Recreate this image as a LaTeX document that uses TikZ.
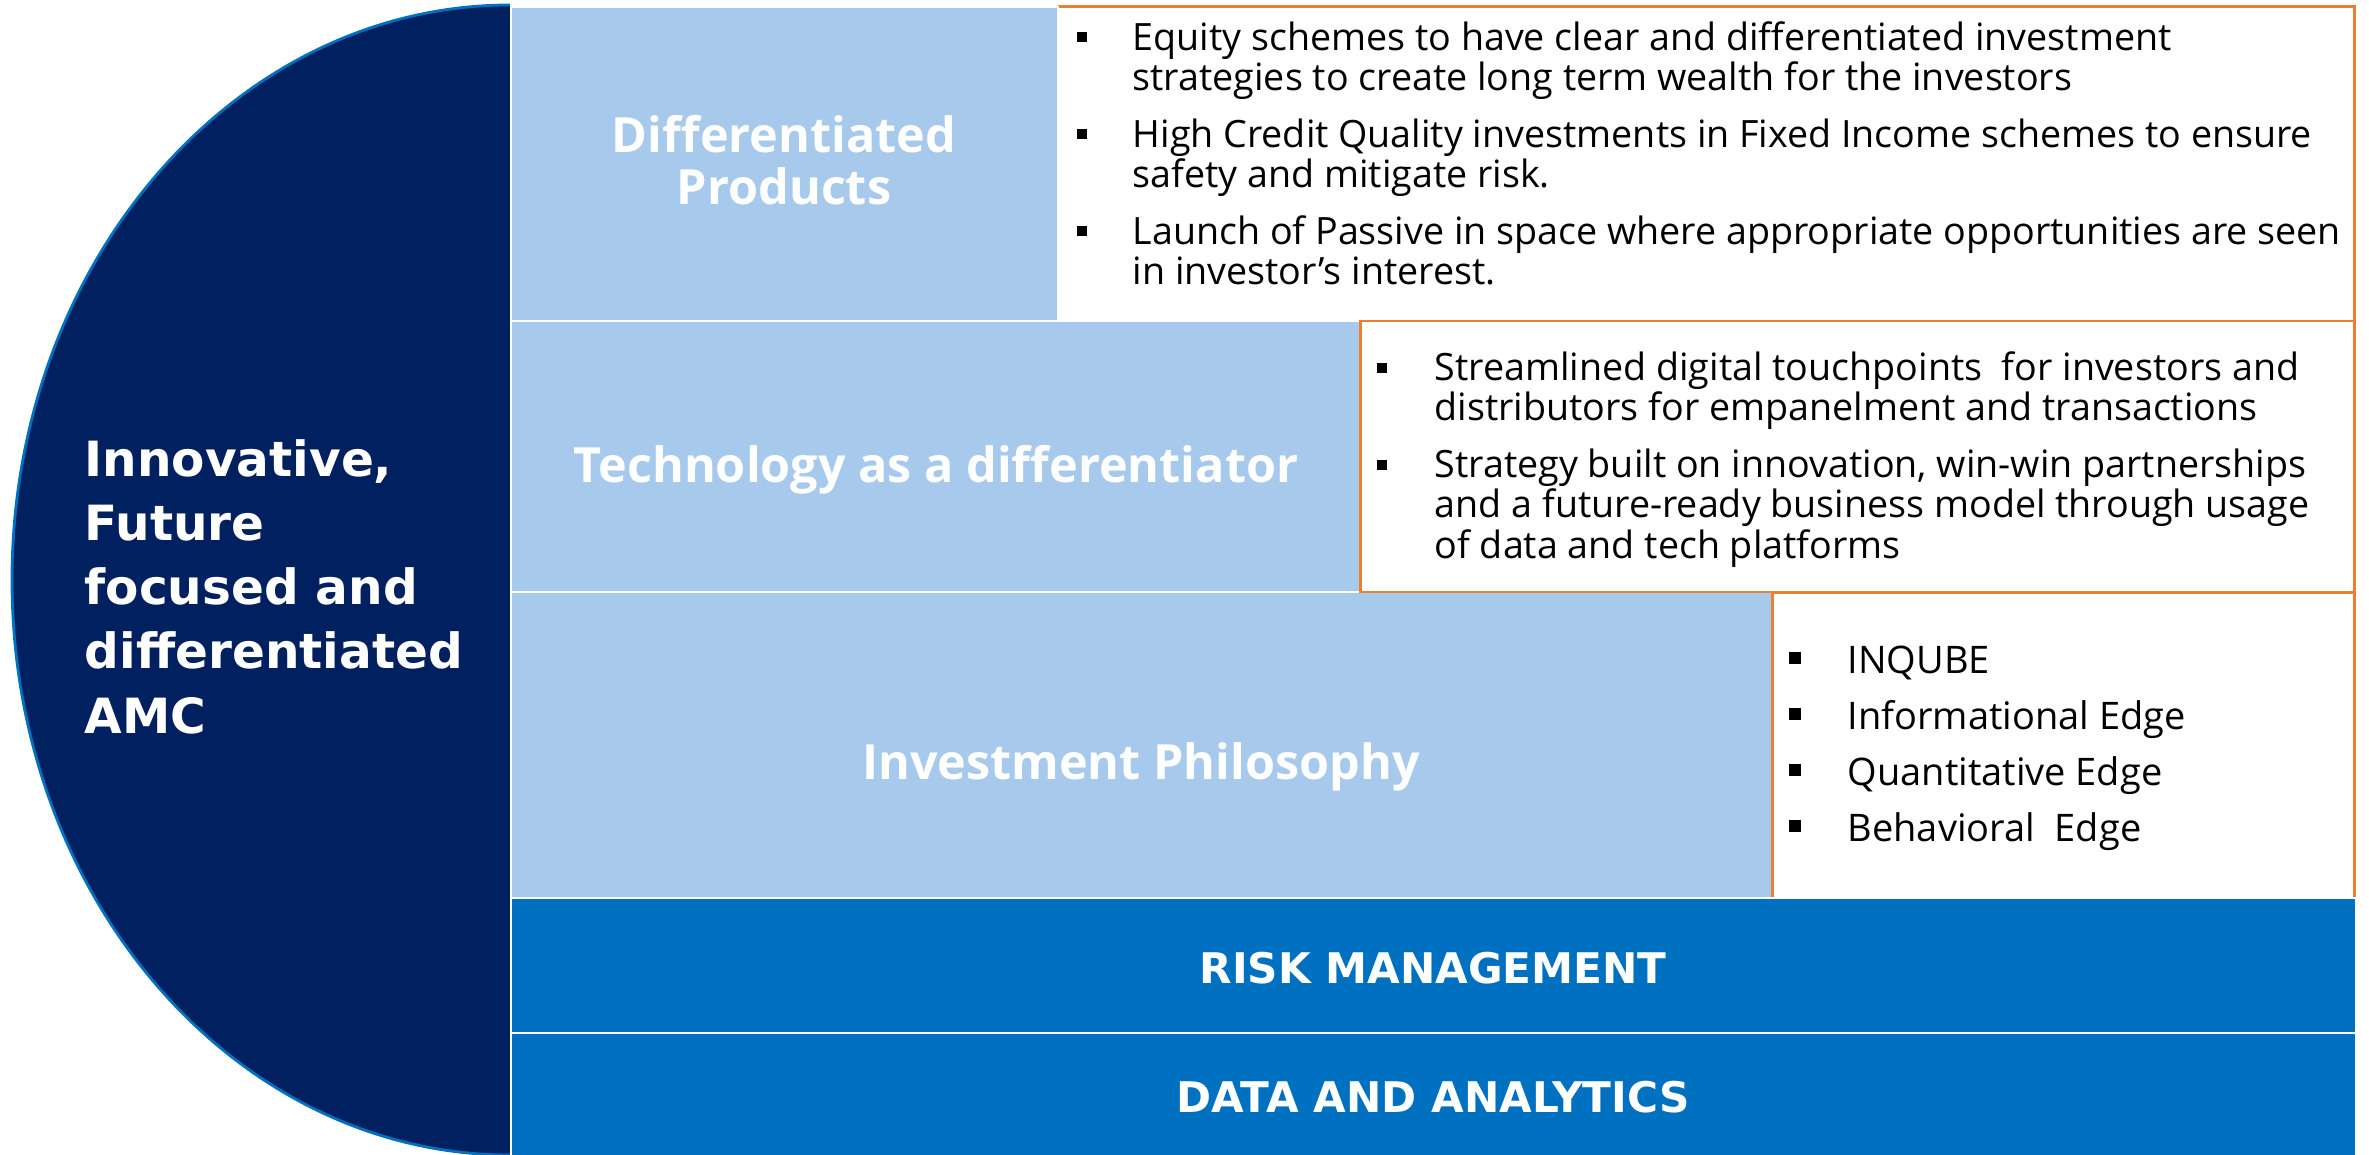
\documentclass[tikz,border=0pt]{standalone}
\usepackage{fontspec}
\setmainfont{Open Sans}
\newfontfamily\wideb{DejaVu Sans}
\definecolor{navy}{HTML}{002060}
\definecolor{eblue}{HTML}{0070C0}
\definecolor{lblue}{HTML}{A7CAEC}
\definecolor{dblue}{HTML}{0070C0}
\definecolor{orng}{HTML}{ED7D31}
\begin{document}
\begin{tikzpicture}[x=0.01cm,y=-0.01cm,
  lbox/.style={fill=lblue,draw=white,line width=0.6pt},
  bar/.style={fill=dblue,draw=white,line width=0.6pt},
  obox/.style={draw=orng,line width=0.85pt},
  head/.style={text=white,font=\fontsize{13.8pt}{14.8pt}\selectfont\bfseries,align=center,anchor=base,inner sep=0pt},
  barhead/.style={text=white,font=\wideb\fontsize{12pt}{14pt}\selectfont\bfseries,anchor=base,inner sep=0pt},
  body/.style={font=\fontsize{10.7pt}{11.45pt}\selectfont,align=left,anchor=base west,inner sep=0pt},
  bodyb/.style={font=\fontsize{10.8pt}{12pt}\selectfont,align=left,anchor=base west,inner sep=0pt},
  bul/.style={fill=black,inner sep=0pt,minimum size=0.1cm,anchor=south west},
  bulb/.style={fill=black,inner sep=0pt,minimum size=0.12cm,anchor=south west}]
\useasboundingbox (0,0) rectangle (2369,1155);
% half ellipse
\begin{scope}
  \clip (0,0) rectangle (510,1155);
  \fill[navy] (510,580) ellipse [x radius=498, y radius=575];
  \draw[eblue,line width=0.8pt] (510,580) ellipse [x radius=498, y radius=575];
\end{scope}
% white boxes
\fill[white] (1058,7) rectangle (2354,321);
\draw[obox] (1058,7) -- (2354,7) -- (2354,321);
% light blue boxes
\draw[lbox] (511,7) rectangle (1058,321);
\draw[lbox] (511,321) rectangle (1360,592);
\draw[lbox] (511,592) rectangle (1772,898);
\draw[obox,fill=white] (1360,321) rectangle (2354,592);
\draw[obox,fill=white] (1772,593) rectangle (2354,898);
% bars
\draw[bar] (511,898) rectangle (2356,1033);
\draw[bar] (511,1033) rectangle (2356,1160);
% left text (anchor = last baseline)
\node[text=white,font=\wideb\fontsize{13.8pt}{18.2pt}\selectfont\bfseries,align=left,anchor=base west,inner sep=0pt] (amc) at (84,733)
  {Innovative,\\Future\\focused and\\differentiated\\AMC};
% headings
\node[head] (h1) at (784,205) {Differentiated\\Products};
\node[head] (h2) at (936,483) {Technology as a differentiator};
\node[head] (h3) at (1141,779) {Investment Philosophy};
\node[barhead] (rm) at (1433,983) {RISK MANAGEMENT};
\node[barhead] (da) at (1433,1112) {DATA AND ANALYTICS};
% box 1 bullets
\node[bul] (b11) at (1076,43) {};
\node[body] (t11) at (1132,91) {Equity schemes to have clear and differentiated investment\\strategies to create long term wealth for the investors};
\node[bul] (b12) at (1076,140) {};
\node[body] (t12) at (1132,188) {High Credit Quality investments in Fixed Income schemes to ensure\\safety and mitigate risk.};
\node[bul] (b13) at (1076,237) {};
\node[body] (t13) at (1132,285) {Launch of Passive in space where appropriate opportunities are seen\\in investor’s interest.};
% box 2 bullets
\node[bul] (b21) at (1376,374) {};
\node[body] (t21) at (1434,421) {Streamlined digital touchpoints\ \ for investors and\\distributors for empanelment and transactions};
\node[bul] (b22) at (1376,471) {};
\node[body] (t22) at (1434,558) {Strategy built on innovation, win-win partnerships\\and a future-ready business model through usage\\of data and tech platforms};
% box 3 bullets
\node[bulb] (b31) at (1788,665) {};
\node[bodyb] (t31) at (1847,673) {INQUBE};
\node[bulb] (b32) at (1788,721) {};
\node[bodyb] (t32) at (1847,729) {Informational Edge};
\node[bulb] (b33) at (1788,777) {};
\node[bodyb] (t33) at (1847,785) {Quantitative Edge};
\node[bulb] (b34) at (1788,833) {};
\node[bodyb] (t34) at (1847,841) {Behavioral\ \ Edge};
\end{tikzpicture}
\end{document}
